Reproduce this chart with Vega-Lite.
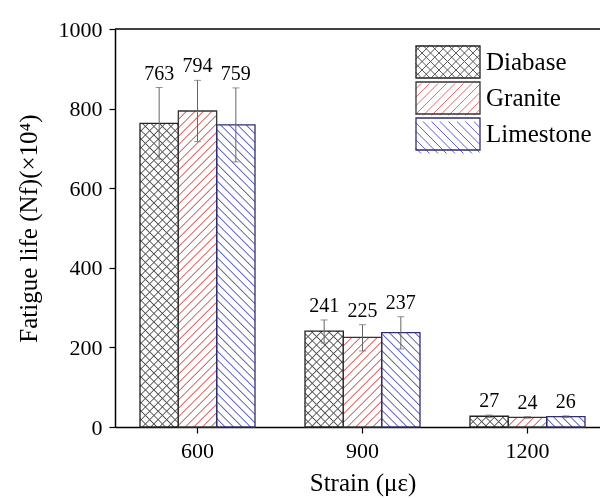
{
  "$schema": "https://vega.github.io/schema/vega-lite/v6.json",
  "autosize": {"type": "none"},
  "padding": {"left": 115, "top": 29, "right": 0, "bottom": 71},
  "width": 485,
  "height": 398,
  "background": "white",
  "config": {
    "view": {"stroke": null},
    "font": "Liberation Serif",
    "axis": {"grid": false, "domainColor": "black", "domainWidth": 1.5, "tickColor": "black", "tickWidth": 1.2, "tickSize": 6, "labelFont": "Liberation Serif", "labelFontSize": 22, "labelColor": "black", "titleFont": "Liberation Serif", "titleFontSize": 25, "titleFontWeight": "normal", "titleColor": "black"},
    "axisX": {"labelPadding": 7, "titlePadding": 9, "labelAngle": 0},
    "axisY": {"labelPadding": 7, "titlePadding": 17}
  },
  "params": [
    {"name": "hs", "value": [
      {"offset":0,"color":"#555"},{"offset":0.003,"color":"rgba(85,85,85,0)"},
      {"offset":0.017,"color":"rgba(85,85,85,0)"},{"offset":0.02,"color":"#555"},{"offset":0.023,"color":"rgba(85,85,85,0)"},
      {"offset":0.037,"color":"rgba(85,85,85,0)"},{"offset":0.04,"color":"#555"},{"offset":0.043,"color":"rgba(85,85,85,0)"},
      {"offset":0.057,"color":"rgba(85,85,85,0)"},{"offset":0.06,"color":"#555"},{"offset":0.063,"color":"rgba(85,85,85,0)"},
      {"offset":0.077,"color":"rgba(85,85,85,0)"},{"offset":0.08,"color":"#555"},{"offset":0.083,"color":"rgba(85,85,85,0)"},
      {"offset":0.097,"color":"rgba(85,85,85,0)"},{"offset":0.1,"color":"#555"},{"offset":0.103,"color":"rgba(85,85,85,0)"},
      {"offset":0.117,"color":"rgba(85,85,85,0)"},{"offset":0.12,"color":"#555"},{"offset":0.123,"color":"rgba(85,85,85,0)"},
      {"offset":0.137,"color":"rgba(85,85,85,0)"},{"offset":0.14,"color":"#555"},{"offset":0.143,"color":"rgba(85,85,85,0)"},
      {"offset":0.157,"color":"rgba(85,85,85,0)"},{"offset":0.16,"color":"#555"},{"offset":0.163,"color":"rgba(85,85,85,0)"},
      {"offset":0.177,"color":"rgba(85,85,85,0)"},{"offset":0.18,"color":"#555"},{"offset":0.183,"color":"rgba(85,85,85,0)"},
      {"offset":0.197,"color":"rgba(85,85,85,0)"},{"offset":0.2,"color":"#555"},{"offset":0.203,"color":"rgba(85,85,85,0)"},
      {"offset":0.217,"color":"rgba(85,85,85,0)"},{"offset":0.22,"color":"#555"},{"offset":0.223,"color":"rgba(85,85,85,0)"},
      {"offset":0.237,"color":"rgba(85,85,85,0)"},{"offset":0.24,"color":"#555"},{"offset":0.243,"color":"rgba(85,85,85,0)"},
      {"offset":0.257,"color":"rgba(85,85,85,0)"},{"offset":0.26,"color":"#555"},{"offset":0.263,"color":"rgba(85,85,85,0)"},
      {"offset":0.277,"color":"rgba(85,85,85,0)"},{"offset":0.28,"color":"#555"},{"offset":0.283,"color":"rgba(85,85,85,0)"},
      {"offset":0.297,"color":"rgba(85,85,85,0)"},{"offset":0.3,"color":"#555"},{"offset":0.303,"color":"rgba(85,85,85,0)"},
      {"offset":0.317,"color":"rgba(85,85,85,0)"},{"offset":0.32,"color":"#555"},{"offset":0.323,"color":"rgba(85,85,85,0)"},
      {"offset":0.337,"color":"rgba(85,85,85,0)"},{"offset":0.34,"color":"#555"},{"offset":0.343,"color":"rgba(85,85,85,0)"},
      {"offset":0.357,"color":"rgba(85,85,85,0)"},{"offset":0.36,"color":"#555"},{"offset":0.363,"color":"rgba(85,85,85,0)"},
      {"offset":0.377,"color":"rgba(85,85,85,0)"},{"offset":0.38,"color":"#555"},{"offset":0.383,"color":"rgba(85,85,85,0)"},
      {"offset":0.397,"color":"rgba(85,85,85,0)"},{"offset":0.4,"color":"#555"},{"offset":0.403,"color":"rgba(85,85,85,0)"},
      {"offset":0.417,"color":"rgba(85,85,85,0)"},{"offset":0.42,"color":"#555"},{"offset":0.423,"color":"rgba(85,85,85,0)"},
      {"offset":0.437,"color":"rgba(85,85,85,0)"},{"offset":0.44,"color":"#555"},{"offset":0.443,"color":"rgba(85,85,85,0)"},
      {"offset":0.457,"color":"rgba(85,85,85,0)"},{"offset":0.46,"color":"#555"},{"offset":0.463,"color":"rgba(85,85,85,0)"},
      {"offset":0.477,"color":"rgba(85,85,85,0)"},{"offset":0.48,"color":"#555"},{"offset":0.483,"color":"rgba(85,85,85,0)"},
      {"offset":0.497,"color":"rgba(85,85,85,0)"},{"offset":0.5,"color":"#555"},{"offset":0.503,"color":"rgba(85,85,85,0)"},
      {"offset":0.517,"color":"rgba(85,85,85,0)"},{"offset":0.52,"color":"#555"},{"offset":0.523,"color":"rgba(85,85,85,0)"},
      {"offset":0.537,"color":"rgba(85,85,85,0)"},{"offset":0.54,"color":"#555"},{"offset":0.543,"color":"rgba(85,85,85,0)"},
      {"offset":0.557,"color":"rgba(85,85,85,0)"},{"offset":0.56,"color":"#555"},{"offset":0.563,"color":"rgba(85,85,85,0)"},
      {"offset":0.577,"color":"rgba(85,85,85,0)"},{"offset":0.58,"color":"#555"},{"offset":0.583,"color":"rgba(85,85,85,0)"},
      {"offset":0.597,"color":"rgba(85,85,85,0)"},{"offset":0.6,"color":"#555"},{"offset":0.603,"color":"rgba(85,85,85,0)"},
      {"offset":0.617,"color":"rgba(85,85,85,0)"},{"offset":0.62,"color":"#555"},{"offset":0.623,"color":"rgba(85,85,85,0)"},
      {"offset":0.637,"color":"rgba(85,85,85,0)"},{"offset":0.64,"color":"#555"},{"offset":0.643,"color":"rgba(85,85,85,0)"},
      {"offset":0.657,"color":"rgba(85,85,85,0)"},{"offset":0.66,"color":"#555"},{"offset":0.663,"color":"rgba(85,85,85,0)"},
      {"offset":0.677,"color":"rgba(85,85,85,0)"},{"offset":0.68,"color":"#555"},{"offset":0.683,"color":"rgba(85,85,85,0)"},
      {"offset":0.697,"color":"rgba(85,85,85,0)"},{"offset":0.7,"color":"#555"},{"offset":0.703,"color":"rgba(85,85,85,0)"},
      {"offset":0.717,"color":"rgba(85,85,85,0)"},{"offset":0.72,"color":"#555"},{"offset":0.723,"color":"rgba(85,85,85,0)"},
      {"offset":0.737,"color":"rgba(85,85,85,0)"},{"offset":0.74,"color":"#555"},{"offset":0.743,"color":"rgba(85,85,85,0)"},
      {"offset":0.757,"color":"rgba(85,85,85,0)"},{"offset":0.76,"color":"#555"},{"offset":0.763,"color":"rgba(85,85,85,0)"},
      {"offset":0.777,"color":"rgba(85,85,85,0)"},{"offset":0.78,"color":"#555"},{"offset":0.783,"color":"rgba(85,85,85,0)"},
      {"offset":0.797,"color":"rgba(85,85,85,0)"},{"offset":0.8,"color":"#555"},{"offset":0.803,"color":"rgba(85,85,85,0)"},
      {"offset":0.817,"color":"rgba(85,85,85,0)"},{"offset":0.82,"color":"#555"},{"offset":0.823,"color":"rgba(85,85,85,0)"},
      {"offset":0.837,"color":"rgba(85,85,85,0)"},{"offset":0.84,"color":"#555"},{"offset":0.843,"color":"rgba(85,85,85,0)"},
      {"offset":0.857,"color":"rgba(85,85,85,0)"},{"offset":0.86,"color":"#555"},{"offset":0.863,"color":"rgba(85,85,85,0)"}
    ]}
  ],
  "data": {"values": [
    {"strain": 600, "type": "Diabase", "life": 763, "lo": 673, "hi": 853},
    {"strain": 600, "type": "Granite", "life": 794, "lo": 717, "hi": 871},
    {"strain": 600, "type": "Limestone", "life": 759, "lo": 666, "hi": 852},
    {"strain": 900, "type": "Diabase", "life": 241, "lo": 211, "hi": 269},
    {"strain": 900, "type": "Granite", "life": 225, "lo": 191, "hi": 257},
    {"strain": 900, "type": "Limestone", "life": 237, "lo": 196, "hi": 277},
    {"strain": 1200, "type": "Diabase", "life": 27, "lo": 24, "hi": 30},
    {"strain": 1200, "type": "Granite", "life": 24, "lo": 22, "hi": 26},
    {"strain": 1200, "type": "Limestone", "life": 26, "lo": 24, "hi": 28}
  ]},
  "layer": [
    {
      "encoding": {
        "x": {"field": "strain", "type": "ordinal", "scale": {"range": [0, 495], "paddingInner": 0, "paddingOuter": 0}, "axis": {"title": "Strain (με)"}},
        "xOffset": {"field": "type", "type": "nominal", "sort": ["Diabase", "Granite", "Limestone"], "scale": {"paddingInner": 0, "paddingOuter": 0.652}}
      },
      "layer": [
        {
          "mark": {"type": "bar"},
          "encoding": {
            "y": {"field": "life", "type": "quantitative", "title": "Fatigue life (Nf)(×10⁴)", "scale": {"domain": [0, 1000]}, "axis": {"values": [0, 200, 400, 600, 800, 1000], "format": "d"}},
            "fill": {
              "field": "type", "type": "nominal",
              "scale": {"range": ["#ffffff", "#ffffff", "#ffffff"]},
              "legend": {
                "orient": "none", "legendX": 316, "legendY": 16, "title": null, "padding": 0,
                "symbolSize": 1024, "symbolStrokeWidth": 1,
                "symbolType": {"expr": "datum.value=='Diabase'?'M-2,-0.65L-1.65,-1M-2,-0.12L-1.12,-1M-2,0.41L-0.59,-1M-2,0.94L-0.06,-1M-1.53,1L0.47,-1M-1,1L1,-1M-0.47,1L1.53,-1M0.06,1L2,-0.94M0.59,1L2,-0.41M1.12,1L2,0.12M1.65,1L2,0.65M2,-0.65L1.65,-1M2,-0.12L1.12,-1M2,0.41L0.59,-1M2,0.94L0.06,-1M1.53,1L-0.47,-1M1,1L-1,-1M0.47,1L-1.53,-1M-0.06,1L-2,-0.94M-0.59,1L-2,-0.41M-1.12,1L-2,0.12M-1.65,1L-2,0.65':datum.value=='Granite'?'M-2,-0.65L-1.65,-1M-2,-0.12L-1.12,-1M-2,0.41L-0.59,-1M-2,0.94L-0.06,-1M-1.53,1L0.47,-1M-1,1L1,-1M-0.47,1L1.53,-1M0.06,1L2,-0.94M0.59,1L2,-0.41M1.12,1L2,0.12M1.65,1L2,0.65':'M2,-0.65L1.65,-1M2,-0.12L1.12,-1M2,0.41L0.59,-1M2,0.94L0.06,-1M1.53,1L-0.47,-1M1,1L-1,-1M0.47,1L-1.53,-1M-0.06,1L-2,-0.94M-0.59,1L-2,-0.41M-1.12,1L-2,0.12M-1.65,1L-2,0.65'"},
                "symbolStrokeColor": {"expr": "datum.value=='Diabase'?'#555555':datum.value=='Granite'?'#e4686e':'#5c5cd6'"},
                "labelExpr": "''", "labelFontSize": 25, "labelOffset": 21, "rowPadding": 1
              }
            }
          }
        },
        {
          "mark": {"type": "bar", "fill": {"expr": "{gradient:'linear',x1:0,y1:datum.type=='Limestone'?1:0,x2:16295/(1470+pow(0.398*datum.life,2)),y2:datum.type=='Limestone'?1-169.15*datum.life/(1470+pow(0.398*datum.life,2)):169.15*datum.life/(1470+pow(0.398*datum.life,2)),stops:hs}"}},
          "encoding": {"y": {"field": "life", "type": "quantitative", "title": "Fatigue life (Nf)(×10⁴)"}}
        },
        {
          "transform": [{"filter": "datum.type=='Diabase'"}],
          "mark": {"type": "bar", "fill": {"expr": "{gradient:'linear',x1:0,y1:1,x2:16295/(1470+pow(0.398*datum.life,2)),y2:1-169.15*datum.life/(1470+pow(0.398*datum.life,2)),stops:hs}"}},
          "encoding": {"y": {"field": "life", "type": "quantitative", "title": "Fatigue life (Nf)(×10⁴)"}}
        },
        {
          "transform": [{"filter": "datum.type!='Diabase'"}],
          "mark": {"type": "bar", "blend": "lighten", "fill": {"expr": "datum.type=='Granite'?'#e4686e':'#5c5cd6'"}},
          "encoding": {"y": {"field": "life", "type": "quantitative", "title": "Fatigue life (Nf)(×10⁴)"}}
        },
        {
          "mark": {"type": "bar", "fill": "transparent", "strokeWidth": 1.3},
          "encoding": {
            "y": {"field": "life", "type": "quantitative", "title": "Fatigue life (Nf)(×10⁴)"},
            "stroke": {
              "field": "type", "type": "nominal",
              "scale": {"domain": ["Diabase", "Granite", "Limestone"], "range": ["#222222", "#333333", "#2e2e6e"]},
              "legend": {
                "orient": "none", "legendX": 316, "legendY": 16, "title": null, "padding": 0,
                "symbolSize": 1024, "symbolStrokeWidth": 1.3, "symbolFillColor": "transparent",
                "symbolType": "M-2,-1H2V1H-2Z",
                "labelFont": "Liberation Serif", "labelFontSize": 25, "labelColor": "black", "labelOffset": 21, "rowPadding": -2
              }
            }
          }
        },
        {
          "mark": {"type": "rule", "color": "#666666", "strokeWidth": 1},
          "encoding": {"y": {"field": "lo", "type": "quantitative", "title": "Fatigue life (Nf)(×10⁴)"}, "y2": {"field": "hi"}}
        },
        {
          "mark": {"type": "tick", "color": "#666666", "thickness": 1, "size": 7},
          "encoding": {"y": {"field": "lo", "type": "quantitative", "title": "Fatigue life (Nf)(×10⁴)"}}
        },
        {
          "mark": {"type": "tick", "color": "#666666", "thickness": 1, "size": 7},
          "encoding": {"y": {"field": "hi", "type": "quantitative", "title": "Fatigue life (Nf)(×10⁴)"}}
        },
        {
          "mark": {"type": "text", "font": "Liberation Serif", "fontSize": 20, "color": "black", "baseline": "alphabetic", "dy": -8},
          "encoding": {"y": {"field": "hi", "type": "quantitative", "title": "Fatigue life (Nf)(×10⁴)"}, "text": {"field": "life", "type": "quantitative"}}
        }
      ]
    },
    {
      "data": {"values": [{}]},
      "mark": {"type": "rule", "color": "black", "strokeWidth": 1.5},
      "encoding": {"y": {"datum": 1000}}
    }
  ]
}
